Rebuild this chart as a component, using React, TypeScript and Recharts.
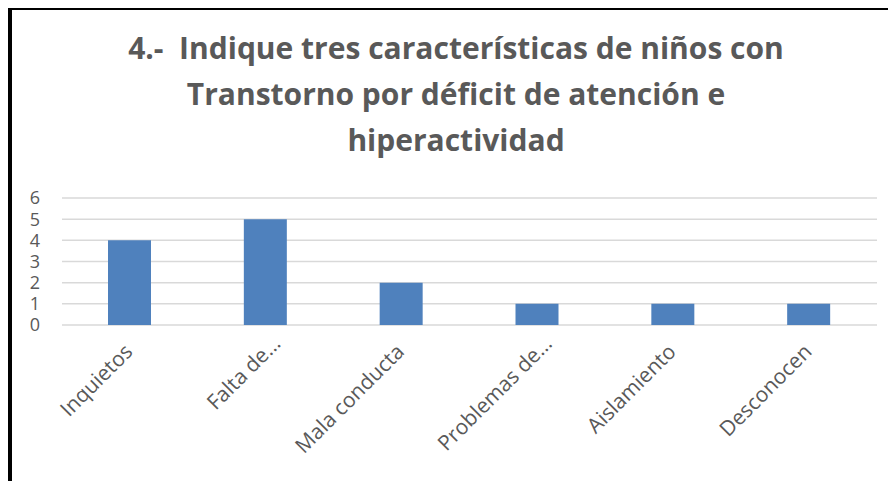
import React from "react";
import { BarChart, Bar, XAxis, YAxis, CartesianGrid } from "recharts";

const TITLE_LINES = [
  "4.-  Indique tres características de niños con",
  "Transtorno por déficit de atención e",
  "hiperactividad",
];
const categories = ["Inquietos", "Falta de…", "Mala conducta", "Problemas de…", "Aislamiento", "Desconocen"];
const values = [4, 5, 2, 1, 1, 1];
const yTicks = [0, 1, 2, 3, 4, 5, 6];

const GREY = "#595959";
const LABEL_FONT = "Open Sans, sans-serif";

const data = categories.map((name, i) => ({ name, value: values[i] }));

const AngledTick = (props: any) => {
  const { x, y, payload } = props;
  const label: string = payload.value;
  // truncated labels stick out a bit further along the slant
  const cut = label.endsWith("…");
  const ax = x + (cut ? 16 : 4);
  const ay = y + (cut ? 20 : 28);
  return (
    <text
      x={ax}
      y={ay}
      textAnchor="end"
      fill={GREY}
      fontSize={21}
      fontFamily={LABEL_FONT}
      transform={`rotate(-45, ${ax}, ${ay})`}
    >
      {label}
    </text>
  );
};

const App: React.FC = () => {
  return (
    <div
      style={{
        position: "relative",
        width: 888,
        height: 474,
        marginTop: -1,
        boxSizing: "border-box",
        borderTop: "3px solid #000",
        borderLeft: "4px solid #000",
        background: "#fff",
      }}
    >
      <div
        style={{
          position: "absolute",
          left: 0,
          top: 15,
          width: 888,
          textAlign: "center",
          fontFamily: "Open Sans, sans-serif",
          fontWeight: 700,
          fontSize: 30,
          lineHeight: "46px",
          color: GREY,
        }}
      >
        {TITLE_LINES.map((t) => (
          <div key={t} style={{ whiteSpace: "pre" }}>
            {t}
          </div>
        ))}
      </div>
      <BarChart
        width={884}
        height={471}
        data={data}
        margin={{ top: 188, right: 19, bottom: 56, left: 0 }}
        barSize={43}
      >
        <CartesianGrid vertical={false} stroke="#d9d9d9" strokeWidth={1.5} />
        <XAxis
          dataKey="name"
          interval={0}
          height={100}
          axisLine={false}
          tickLine={false}
          tickSize={0}
          tickMargin={0}
          tick={<AngledTick />}
        />
        <YAxis
          domain={[0, 6]}
          ticks={yTicks}
          width={50}
          axisLine={false}
          tickLine={false}
          tickSize={0}
          tickMargin={22}
          interval={0}
          tick={{ fill: GREY, fontSize: 18, fontFamily: LABEL_FONT }}
        />
        <Bar dataKey="value" fill="#4F81BD" isAnimationActive={false} />
      </BarChart>
    </div>
  );
};

export default App;
